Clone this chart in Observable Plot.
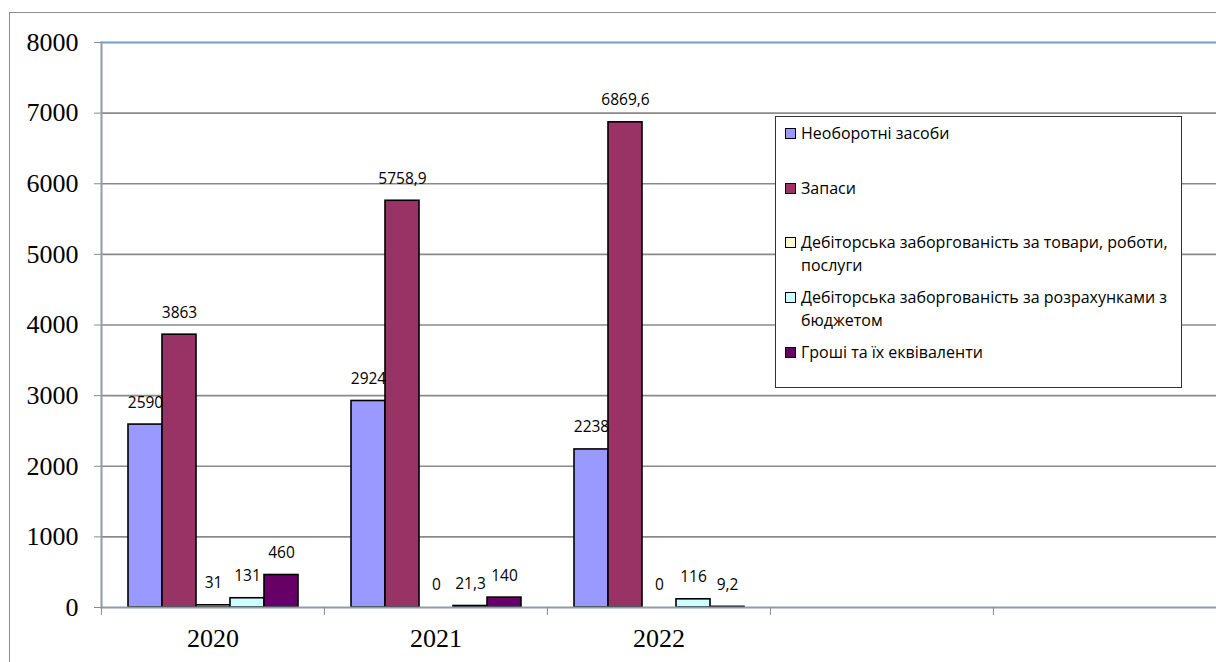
<!DOCTYPE html>
<html>
<head>
<meta charset="utf-8">
<script src="https://cdn.jsdelivr.net/npm/d3@7"></script>
<script src="https://cdn.jsdelivr.net/npm/@observablehq/plot@0.6"></script>
<style>
  html, body { margin: 0; padding: 0; background: #fff; overflow: hidden; }
  #wrap { position: relative; width: 1216px; height: 662px; overflow: hidden; }
  #border { position: absolute; left: 9px; top: 12px; width: 1400px; height: 900px; border: 1.5px solid #8c8c8c; }
  #chart { position: absolute; left: 0; top: 0; }
  #legend { position: absolute; left: 775px; top: 116px; width: 407px; height: 272px; border: 1.3px solid #333; background: #fff; box-sizing: border-box; font-family: "Open Sans", sans-serif; font-size: 16px; color: #000; }
  .item { position: absolute; left: 9px; width: 394px; line-height: 23px; }
  .sw { position: absolute; left: 0; top: 6px; width: 9px; height: 9px; border: 1.5px solid #000; }
  .lbl { position: absolute; left: 16px; width: 382px; }
</style>
</head>
<body>
<div id="wrap">
  <div id="border"></div>
  <div id="chart"></div>
  <div id="legend"></div>
</div>
<script>
// ---- data ----
const years = ["2020", "2021", "2022"];
const slots = ["2020", "2021", "2022", "slot4", "slot5"]; // two empty categories on the axis
const seriesNames = [
  "Необоротні засоби",
  "Запаси",
  "Дебіторська заборгованість за товари, роботи, послуги",
  "Дебіторська заборгованість за розрахунками з бюджетом",
  "Гроші та їх еквіваленти"
];
const seriesColors = ["#9999FF", "#993366", "#FFFFCC", "#CCFFFF", "#660066"];
const nonCurrent = [2590, 2924, 2238];
const inventories = [3863, 5758.9, 6869.6];
const receivablesGoods = [31, 0, 0];
const receivablesBudget = [131, 21.3, 116];
const cash = [460, 140, 9.2];
const yTicks = [0, 1000, 2000, 3000, 4000, 5000, 6000, 7000, 8000];

const seriesValues = [nonCurrent, inventories, receivablesGoods, receivablesBudget, cash];
const data = [];
years.forEach((yr, i) => {
  seriesNames.forEach((s, j) => data.push({year: yr, series: s, value: seriesValues[j][i]}));
});
const gridData = slots.flatMap(s => yTicks.map(t => ({slot: s, t})));
const fmt = v => String(v).replace(".", ",");

const W = 1216, H = 662, mL = 100, mR = 0, mT = 42, mB = 55;
const fxStep = (W - mL - mR) / slots.length;

const chart = Plot.plot({
  width: W,
  height: H,
  marginLeft: mL,
  marginRight: mR,
  marginTop: mT,
  marginBottom: mB,
  style: {background: "transparent", overflow: "visible", fontFamily: "Liberation Serif"},
  fx: {domain: slots, padding: 0, label: null},
  x: {domain: seriesNames, paddingInner: 0, paddingOuter: 0.75, axis: null},
  y: {domain: [0, 8000], label: null},
  color: {domain: seriesNames, range: seriesColors},
  marks: [
    Plot.ruleY(gridData.filter(d => d.t > 0 && d.t < 8000), {fx: "slot", y: "t", stroke: "#8a8a8a", strokeWidth: 1.6}),
    Plot.ruleY(gridData.filter(d => d.t === 8000), {fx: "slot", y: "t", stroke: "#6f9fd3", strokeWidth: 2.2}),
    Plot.barY(data.filter(d => d.value > 0), {fx: "year", x: "series", y: "value", fill: "series", stroke: "#000", strokeWidth: 1.6}),
    Plot.ruleY(gridData.filter(d => d.t === 0), {fx: "slot", y: "t", stroke: "#8f9ca8", strokeWidth: 2}),
    Plot.frame({anchor: "left", facetAnchor: "left", stroke: "#8f9ca8", strokeWidth: 2}),
    Plot.text(data, {fx: "year", x: "series", y: "value", text: d => fmt(d.value), dy: -22, fontSize: 15.5, fontFamily: "Open Sans", fill: "#000"}),
    // y-axis tick marks (gray) and labels (black serif)
    Plot.axisY({ticks: yTicks, tickSize: 7, tickFormat: () => "", stroke: "#8a8a8a", label: null}),
    Plot.axisY({ticks: yTicks, tickSize: 0, tickPadding: 23, tickFormat: d => String(d), fontSize: 26, fontFamily: "Liberation Serif", fill: "#000", label: null}),
    // category boundary ticks and labels
    Plot.axisFx({anchor: "bottom", tickSize: 8, tickFormat: () => "", dx: -fxStep / 2, stroke: "#8a8a8a", label: null}),
    Plot.axisFx({anchor: "bottom", tickSize: 0, tickPadding: 21, tickFormat: d => years.includes(d) ? d : "", fontSize: 26, fontFamily: "Liberation Serif", fill: "#000", label: null})
  ]
});
document.getElementById("chart").appendChild(chart);

// ---- legend ----
const legend = document.getElementById("legend");
seriesNames.forEach((s, j) => {
  const it = document.createElement("div");
  it.className = "item";
  it.style.top = (5 + j * 54.7) + "px";
  const sw = document.createElement("div");
  sw.className = "sw";
  sw.style.background = seriesColors[j];
  const lb = document.createElement("div");
  lb.className = "lbl";
  lb.textContent = s;
  it.appendChild(sw);
  it.appendChild(lb);
  legend.appendChild(it);
});
</script>
</body>
</html>
